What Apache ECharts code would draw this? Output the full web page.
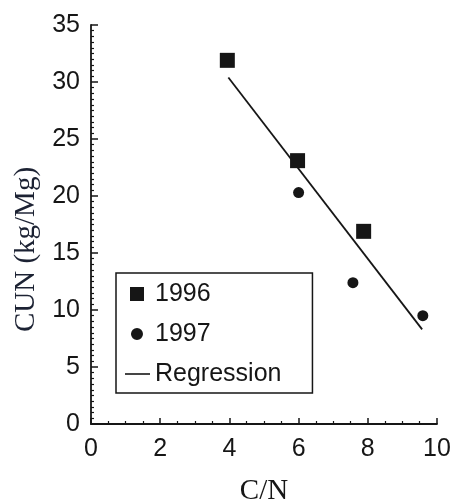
<!DOCTYPE html>
<html><head><meta charset="utf-8">
<script src="https://cdn.jsdelivr.net/npm/echarts@6/dist/echarts.min.js"></script>
<style>html,body{margin:0;padding:0;background:#fff}#c{width:454px;height:503px}</style>
</head><body><div id="c"></div>
<script>
const xTicks = [0, 2, 4, 6, 8, 10];
const yTicks = [0, 5, 10, 15, 20, 25, 30, 35];
const cn1996 = [3.94, 5.97, 7.88];
const cun1996 = [31.9, 23.1, 16.9];
const cn1997 = [6.0, 7.57, 9.59];
const cun1997 = [20.3, 12.4, 9.5];
const regX = [3.97, 9.57];
const regY = [30.4, 8.3];

const ink = '#161616';
const sans = '"Liberation Sans", Arial, sans-serif';
const serif = '"Liberation Serif", "Times New Roman", serif';
const zip = (a, b) => a.map((v, i) => [v, b[i]]);

const chart = echarts.init(document.getElementById('c'));
chart.setOption({
  animation: false,
  backgroundColor: '#fff',
  grid: { left: 91, right: 17, top: 25, bottom: 79, outerBoundsMode: 'none', containLabel: false },
  xAxis: {
    type: 'value', min: xTicks[0], max: xTicks[xTicks.length - 1], interval: 2,
    name: 'C/N', nameLocation: 'middle', nameGap: 53,
    nameTextStyle: { fontFamily: serif, fontSize: 29, color: ink },
    axisLine: { lineStyle: { color: ink, width: 1.8 } },
    axisTick: { inside: true, length: 6, lineStyle: { color: ink, width: 1.5 } },
    minorTick: { show: true, splitNumber: 4, length: 3, lineStyle: { color: ink, width: 1.2 } },
    axisLabel: { fontFamily: sans, fontSize: 25, color: ink, margin: 13 },
    splitLine: { show: false }
  },
  yAxis: {
    type: 'value', min: yTicks[0], max: yTicks[yTicks.length - 1], interval: 5,
    name: 'CUN (kg/Mg)', nameLocation: 'middle', nameGap: 50,
    nameTextStyle: { fontFamily: serif, fontSize: 29, color: '#1c2233', padding: [0, 50, 0, 0] },
    axisLine: { show: true, lineStyle: { color: ink, width: 1.8 } },
    axisTick: { show: true, inside: true, length: 7, lineStyle: { color: ink, width: 1.5 } },
    minorTick: { show: true, splitNumber: 10, length: 3, lineStyle: { color: ink, width: 1.2 } },
    axisLabel: { fontFamily: sans, fontSize: 25, color: ink, margin: 11 },
    splitLine: { show: false }
  },
  legend: {
    orient: 'vertical', left: 116, top: 273,
    padding: [7, 31, 5, 9], itemGap: 12,
    itemWidth: 25, itemHeight: 14,
    borderColor: ink, borderWidth: 1.5, borderRadius: 0,
    textStyle: { fontFamily: sans, fontSize: 25, color: ink, lineHeight: 28 },
    data: [
      { name: '1996', icon: 'path://M0,0M25,14M5,0H19V14H5Z', itemStyle: { color: ink, opacity: 1 } },
      { name: '1997', icon: 'path://M0,0M25,14M12,1A6,6,0,1,1,11.99,1Z', itemStyle: { color: ink, opacity: 1 } },
      { name: 'Regression', icon: 'path://M0,0M25,14M0,6.2H25V7.8H0Z', itemStyle: { color: ink, opacity: 1 } }
    ]
  },
  series: [
    { name: '1996', type: 'scatter', symbol: 'rect', symbolSize: 15,
      itemStyle: { color: ink, opacity: 1 }, data: zip(cn1996, cun1996) },
    { name: '1997', type: 'scatter', symbol: 'circle', symbolSize: 11,
      itemStyle: { color: ink, opacity: 1 }, data: zip(cn1997, cun1997) },
    { name: 'Regression', type: 'line', symbol: 'none', showSymbol: false,
      lineStyle: { color: ink, width: 1.8 }, itemStyle: { color: ink },
      data: zip(regX, regY) }
  ]
});
</script></body></html>
